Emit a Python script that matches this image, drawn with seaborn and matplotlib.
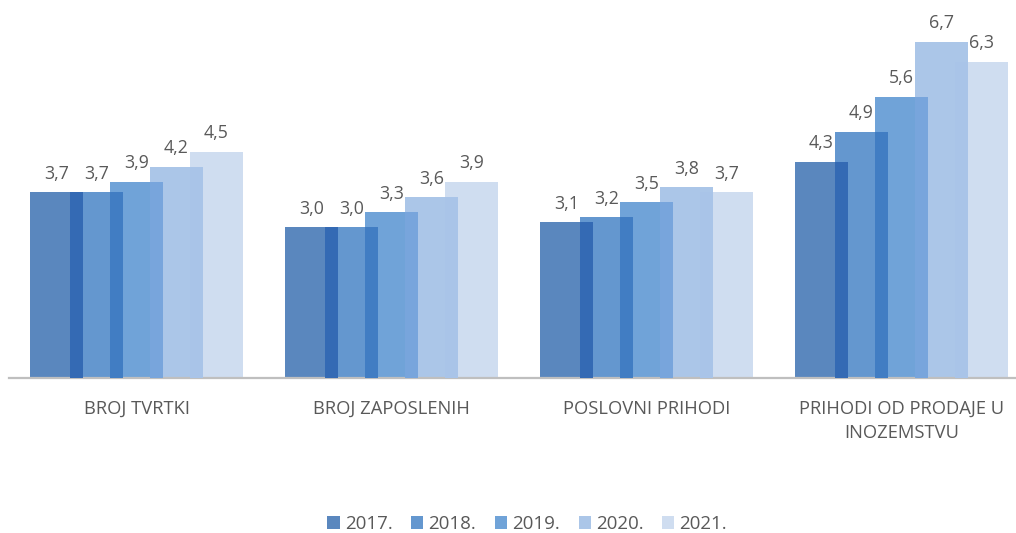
import matplotlib
matplotlib.use("Agg")
import matplotlib.pyplot as plt
from matplotlib.patches import Rectangle
import seaborn as sns
import pandas as pd

categories = ["BROJ TVRTKI", "BROJ ZAPOSLENIH", "POSLOVNI PRIHODI", "PRIHODI OD PRODAJE U\nINOZEMSTVU"]
years = ["2017.", "2018.", "2019.", "2020.", "2021."]
v2017 = [3.7, 3.0, 3.1, 4.3]
v2018 = [3.7, 3.0, 3.2, 4.9]
v2019 = [3.9, 3.3, 3.5, 5.6]
v2020 = [4.2, 3.6, 3.8, 6.7]
v2021 = [4.5, 3.9, 3.7, 6.3]

colors = ["#5A87BE", "#6497CF", "#70A3D8", "#ABC6E8", "#CFDDF0"]
overlap_colors = ["#346AB4", "#417DC3", "#78A5DC", "#A9C4E8"]

series = [v2017, v2018, v2019, v2020, v2021]
rows = []
for y, vals in zip(years, series):
    for c, v in zip(categories, vals):
        rows.append({"cat": c, "year": y, "val": v})
df = pd.DataFrame(rows)

sns.set_style("white")
plt.rcParams["font.family"] = ["Open Sans", "DejaVu Sans"]
txt = "#595959"

fig = plt.figure(figsize=(10.16, 5.33), dpi=100)
ax = fig.add_axes([9 / 1016, 155 / 533, 1007 / 1016, 362 / 533])

sns.barplot(data=df, x="cat", y="val", hue="year", order=categories, hue_order=years,
            palette=colors, width=0.784, gap=-0.325, linewidth=0, saturation=1,
            errorbar=None, ax=ax, legend=False)

ax.set_xlim(-0.5, -0.5 + 1007 / 255)
ax.set_ylim(0, 362 / 50.2)

conts = ax.containers
for i in range(len(conts) - 1):
    for p1, p2 in zip(conts[i], conts[i + 1]):
        x0 = p2.get_x()
        x1 = p1.get_x() + p1.get_width()
        h = min(p1.get_height(), p2.get_height())
        if x1 > x0:
            ax.add_patch(Rectangle((x0, 0), x1 - x0, h, facecolor=overlap_colors[i],
                                   linewidth=0, zorder=3))

for cont, vals in zip(conts, series):
    ax.bar_label(cont, labels=[f"{v:.1f}".replace(".", ",") for v in vals],
                 padding=7, fontsize=12.8, color=txt)

for s in ["top", "left", "right"]:
    ax.spines[s].set_visible(False)
ax.spines["bottom"].set_color("#BFBFBF")
ax.spines["bottom"].set_linewidth(1.6)
ax.set_yticks([])
ax.set_xlabel("")
ax.set_ylabel("")
ax.tick_params(axis="x", length=0, pad=16, labelsize=13.2, labelcolor=txt)
for lab in ax.get_xticklabels():
    lab.set_verticalalignment("top")
    lab.set_linespacing(1.4)

handles = [Rectangle((0, 0), 1, 1, facecolor=c, linewidth=0) for c in colors]
fig.legend(handles, years, loc="center", bbox_to_anchor=(0.519, 1 - 524 / 533), ncol=5,
           frameon=False, fontsize=13.5, labelcolor=txt, handlelength=0.65, handleheight=0.65,
           handletextpad=0.27, columnspacing=1.0)

fig.savefig("out.png", dpi=100)
